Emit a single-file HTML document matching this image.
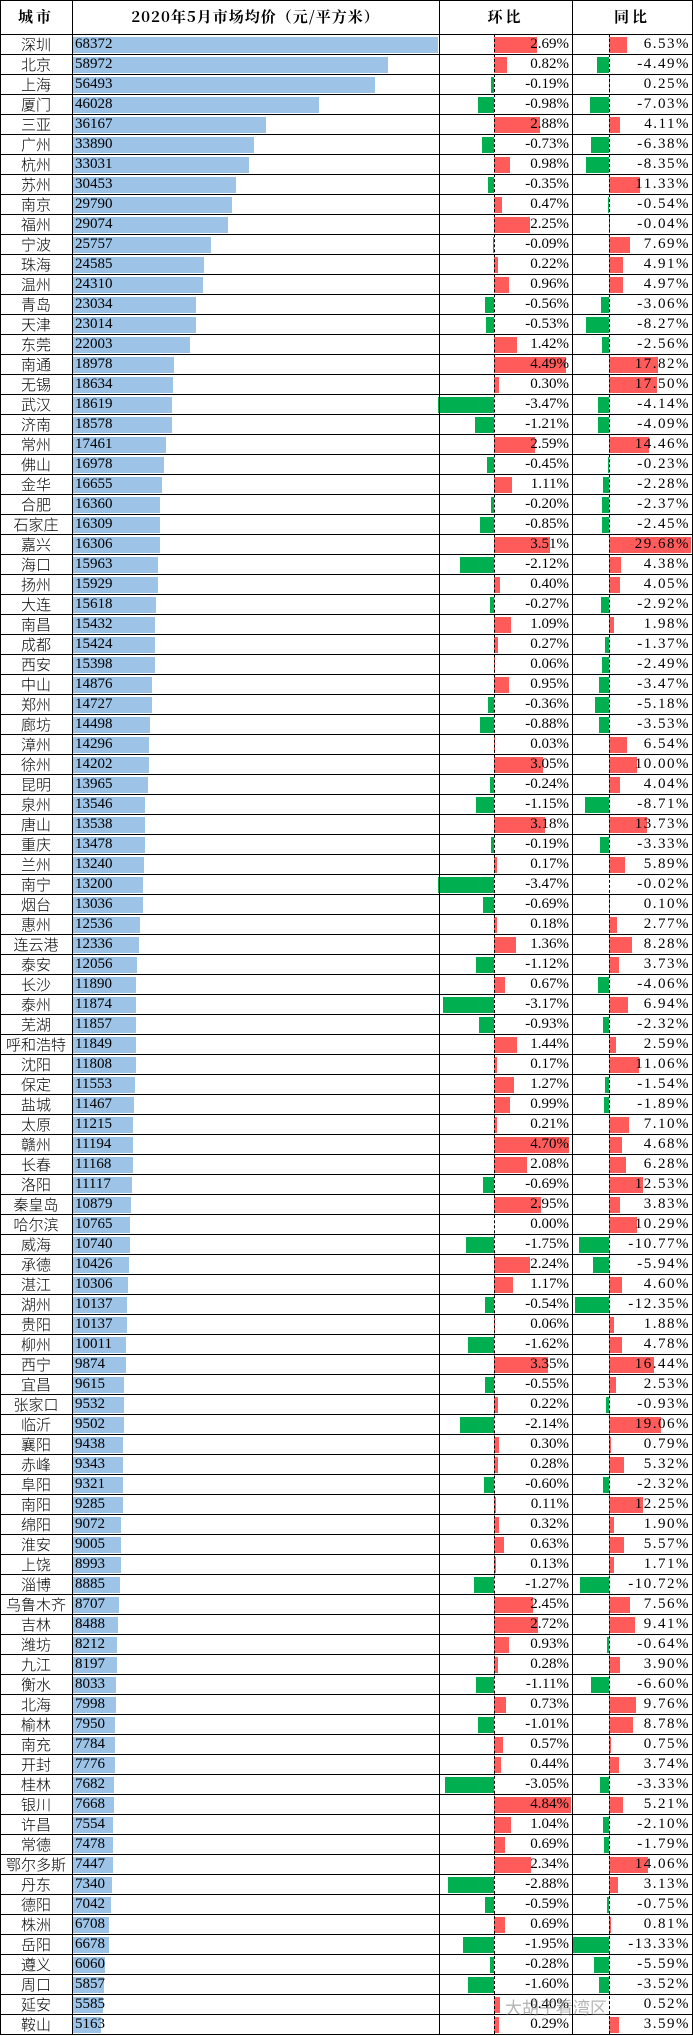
<!DOCTYPE html>
<html><head><meta charset="utf-8"><style>
body{margin:0;width:693px;height:2036px;background:#fff;position:relative;overflow:hidden;font-family:"Liberation Serif","Noto Serif CJK SC",serif;color:#000}
.vl{position:absolute;top:0;height:2035px;width:1px;background:#000}
.dl{position:absolute;top:34px;height:2000px;width:0;border-left:1px dashed #000}
.hd{position:absolute;top:0;height:34px;line-height:34px;text-align:center;font-weight:bold;font-size:15px;font-family:"Noto Serif CJK SC","Liberation Serif",serif;letter-spacing:3px}
#rows{position:absolute;top:34px;left:0;width:693px;border-top:1px solid #000}
.r{position:relative;height:20px;box-sizing:border-box;border-bottom:1px solid #000}
.r i{position:absolute;top:0;line-height:19px;font-style:normal;font-size:15px;white-space:nowrap}
.r b{position:absolute;top:2px;height:16px}
.c{left:0;width:72px;text-align:center;font-family:"Noto Sans CJK SC","Liberation Sans",sans-serif;font-weight:300!important;font-size:15px}
.p{left:73px;background:#9DC3E6;width:calc(var(--p)*0.00534px)}
.v{left:75px}
.hp{left:494px;width:calc(var(--a)*16px);background:#FF5B5B}
.hn{right:199px;width:calc(var(--a)*16px);background:#00B050}
.hv{right:124px}
.tp{left:609px;width:calc(var(--b)*2.75px);background:#FF5B5B}
.tn{right:84px;width:calc(var(--b)*2.75px);background:#00B050}
.tv{right:3px;letter-spacing:1.5px}
.wm{position:absolute;left:505px;top:1994px;font-size:17px;color:rgba(120,120,120,.55);font-family:"Noto Sans CJK SC",sans-serif}
</style></head><body>
<div class="hd" style="left:0;width:72px">城市</div>
<div class="hd" style="left:72px;width:367px;letter-spacing:1px">2020年5月市场均价（元/平方米）</div>
<div class="hd" style="left:439px;width:133px">环比</div>
<div class="hd" style="left:572px;width:120px">同比</div>
<div id="rows">
<div class="r" style="--p:68372;--a:2.69;--b:6.53"><b class="p"></b><i class="c">深圳</i><i class="v">68372</i><b class="hp"></b><i class="hv">2.69%</i><b class="tp"></b><i class="tv">6.53%</i></div>
<div class="r" style="--p:58972;--a:0.82;--b:4.49"><b class="p"></b><i class="c">北京</i><i class="v">58972</i><b class="hp"></b><i class="hv">0.82%</i><b class="tn"></b><i class="tv">-4.49%</i></div>
<div class="r" style="--p:56493;--a:0.19;--b:0.25"><b class="p"></b><i class="c">上海</i><i class="v">56493</i><b class="hn"></b><i class="hv">-0.19%</i><b class="tp"></b><i class="tv">0.25%</i></div>
<div class="r" style="--p:46028;--a:0.98;--b:7.03"><b class="p"></b><i class="c">厦门</i><i class="v">46028</i><b class="hn"></b><i class="hv">-0.98%</i><b class="tn"></b><i class="tv">-7.03%</i></div>
<div class="r" style="--p:36167;--a:2.88;--b:4.11"><b class="p"></b><i class="c">三亚</i><i class="v">36167</i><b class="hp"></b><i class="hv">2.88%</i><b class="tp"></b><i class="tv">4.11%</i></div>
<div class="r" style="--p:33890;--a:0.73;--b:6.38"><b class="p"></b><i class="c">广州</i><i class="v">33890</i><b class="hn"></b><i class="hv">-0.73%</i><b class="tn"></b><i class="tv">-6.38%</i></div>
<div class="r" style="--p:33031;--a:0.98;--b:8.35"><b class="p"></b><i class="c">杭州</i><i class="v">33031</i><b class="hp"></b><i class="hv">0.98%</i><b class="tn"></b><i class="tv">-8.35%</i></div>
<div class="r" style="--p:30453;--a:0.35;--b:11.33"><b class="p"></b><i class="c">苏州</i><i class="v">30453</i><b class="hn"></b><i class="hv">-0.35%</i><b class="tp"></b><i class="tv">11.33%</i></div>
<div class="r" style="--p:29790;--a:0.47;--b:0.54"><b class="p"></b><i class="c">南京</i><i class="v">29790</i><b class="hp"></b><i class="hv">0.47%</i><b class="tn"></b><i class="tv">-0.54%</i></div>
<div class="r" style="--p:29074;--a:2.25;--b:0.04"><b class="p"></b><i class="c">福州</i><i class="v">29074</i><b class="hp"></b><i class="hv">2.25%</i><b class="tn"></b><i class="tv">-0.04%</i></div>
<div class="r" style="--p:25757;--a:0.09;--b:7.69"><b class="p"></b><i class="c">宁波</i><i class="v">25757</i><b class="hn"></b><i class="hv">-0.09%</i><b class="tp"></b><i class="tv">7.69%</i></div>
<div class="r" style="--p:24585;--a:0.22;--b:4.91"><b class="p"></b><i class="c">珠海</i><i class="v">24585</i><b class="hp"></b><i class="hv">0.22%</i><b class="tp"></b><i class="tv">4.91%</i></div>
<div class="r" style="--p:24310;--a:0.96;--b:4.97"><b class="p"></b><i class="c">温州</i><i class="v">24310</i><b class="hp"></b><i class="hv">0.96%</i><b class="tp"></b><i class="tv">4.97%</i></div>
<div class="r" style="--p:23034;--a:0.56;--b:3.06"><b class="p"></b><i class="c">青岛</i><i class="v">23034</i><b class="hn"></b><i class="hv">-0.56%</i><b class="tn"></b><i class="tv">-3.06%</i></div>
<div class="r" style="--p:23014;--a:0.53;--b:8.27"><b class="p"></b><i class="c">天津</i><i class="v">23014</i><b class="hn"></b><i class="hv">-0.53%</i><b class="tn"></b><i class="tv">-8.27%</i></div>
<div class="r" style="--p:22003;--a:1.42;--b:2.56"><b class="p"></b><i class="c">东莞</i><i class="v">22003</i><b class="hp"></b><i class="hv">1.42%</i><b class="tn"></b><i class="tv">-2.56%</i></div>
<div class="r" style="--p:18978;--a:4.49;--b:17.82"><b class="p"></b><i class="c">南通</i><i class="v">18978</i><b class="hp"></b><i class="hv">4.49%</i><b class="tp"></b><i class="tv">17.82%</i></div>
<div class="r" style="--p:18634;--a:0.30;--b:17.50"><b class="p"></b><i class="c">无锡</i><i class="v">18634</i><b class="hp"></b><i class="hv">0.30%</i><b class="tp"></b><i class="tv">17.50%</i></div>
<div class="r" style="--p:18619;--a:3.47;--b:4.14"><b class="p"></b><i class="c">武汉</i><i class="v">18619</i><b class="hn"></b><i class="hv">-3.47%</i><b class="tn"></b><i class="tv">-4.14%</i></div>
<div class="r" style="--p:18578;--a:1.21;--b:4.09"><b class="p"></b><i class="c">济南</i><i class="v">18578</i><b class="hn"></b><i class="hv">-1.21%</i><b class="tn"></b><i class="tv">-4.09%</i></div>
<div class="r" style="--p:17461;--a:2.59;--b:14.46"><b class="p"></b><i class="c">常州</i><i class="v">17461</i><b class="hp"></b><i class="hv">2.59%</i><b class="tp"></b><i class="tv">14.46%</i></div>
<div class="r" style="--p:16978;--a:0.45;--b:0.23"><b class="p"></b><i class="c">佛山</i><i class="v">16978</i><b class="hn"></b><i class="hv">-0.45%</i><b class="tn"></b><i class="tv">-0.23%</i></div>
<div class="r" style="--p:16655;--a:1.11;--b:2.28"><b class="p"></b><i class="c">金华</i><i class="v">16655</i><b class="hp"></b><i class="hv">1.11%</i><b class="tn"></b><i class="tv">-2.28%</i></div>
<div class="r" style="--p:16360;--a:0.20;--b:2.37"><b class="p"></b><i class="c">合肥</i><i class="v">16360</i><b class="hn"></b><i class="hv">-0.20%</i><b class="tn"></b><i class="tv">-2.37%</i></div>
<div class="r" style="--p:16309;--a:0.85;--b:2.45"><b class="p"></b><i class="c">石家庄</i><i class="v">16309</i><b class="hn"></b><i class="hv">-0.85%</i><b class="tn"></b><i class="tv">-2.45%</i></div>
<div class="r" style="--p:16306;--a:3.51;--b:29.68"><b class="p"></b><i class="c">嘉兴</i><i class="v">16306</i><b class="hp"></b><i class="hv">3.51%</i><b class="tp"></b><i class="tv">29.68%</i></div>
<div class="r" style="--p:15963;--a:2.12;--b:4.38"><b class="p"></b><i class="c">海口</i><i class="v">15963</i><b class="hn"></b><i class="hv">-2.12%</i><b class="tp"></b><i class="tv">4.38%</i></div>
<div class="r" style="--p:15929;--a:0.40;--b:4.05"><b class="p"></b><i class="c">扬州</i><i class="v">15929</i><b class="hp"></b><i class="hv">0.40%</i><b class="tp"></b><i class="tv">4.05%</i></div>
<div class="r" style="--p:15618;--a:0.27;--b:2.92"><b class="p"></b><i class="c">大连</i><i class="v">15618</i><b class="hn"></b><i class="hv">-0.27%</i><b class="tn"></b><i class="tv">-2.92%</i></div>
<div class="r" style="--p:15432;--a:1.09;--b:1.98"><b class="p"></b><i class="c">南昌</i><i class="v">15432</i><b class="hp"></b><i class="hv">1.09%</i><b class="tp"></b><i class="tv">1.98%</i></div>
<div class="r" style="--p:15424;--a:0.27;--b:1.37"><b class="p"></b><i class="c">成都</i><i class="v">15424</i><b class="hp"></b><i class="hv">0.27%</i><b class="tn"></b><i class="tv">-1.37%</i></div>
<div class="r" style="--p:15398;--a:0.06;--b:2.49"><b class="p"></b><i class="c">西安</i><i class="v">15398</i><b class="hp"></b><i class="hv">0.06%</i><b class="tn"></b><i class="tv">-2.49%</i></div>
<div class="r" style="--p:14876;--a:0.95;--b:3.47"><b class="p"></b><i class="c">中山</i><i class="v">14876</i><b class="hp"></b><i class="hv">0.95%</i><b class="tn"></b><i class="tv">-3.47%</i></div>
<div class="r" style="--p:14727;--a:0.36;--b:5.18"><b class="p"></b><i class="c">郑州</i><i class="v">14727</i><b class="hn"></b><i class="hv">-0.36%</i><b class="tn"></b><i class="tv">-5.18%</i></div>
<div class="r" style="--p:14498;--a:0.88;--b:3.53"><b class="p"></b><i class="c">廊坊</i><i class="v">14498</i><b class="hn"></b><i class="hv">-0.88%</i><b class="tn"></b><i class="tv">-3.53%</i></div>
<div class="r" style="--p:14296;--a:0.03;--b:6.54"><b class="p"></b><i class="c">漳州</i><i class="v">14296</i><b class="hp"></b><i class="hv">0.03%</i><b class="tp"></b><i class="tv">6.54%</i></div>
<div class="r" style="--p:14202;--a:3.05;--b:10.00"><b class="p"></b><i class="c">徐州</i><i class="v">14202</i><b class="hp"></b><i class="hv">3.05%</i><b class="tp"></b><i class="tv">10.00%</i></div>
<div class="r" style="--p:13965;--a:0.24;--b:4.04"><b class="p"></b><i class="c">昆明</i><i class="v">13965</i><b class="hn"></b><i class="hv">-0.24%</i><b class="tp"></b><i class="tv">4.04%</i></div>
<div class="r" style="--p:13546;--a:1.15;--b:8.71"><b class="p"></b><i class="c">泉州</i><i class="v">13546</i><b class="hn"></b><i class="hv">-1.15%</i><b class="tn"></b><i class="tv">-8.71%</i></div>
<div class="r" style="--p:13538;--a:3.18;--b:13.73"><b class="p"></b><i class="c">唐山</i><i class="v">13538</i><b class="hp"></b><i class="hv">3.18%</i><b class="tp"></b><i class="tv">13.73%</i></div>
<div class="r" style="--p:13478;--a:0.19;--b:3.33"><b class="p"></b><i class="c">重庆</i><i class="v">13478</i><b class="hn"></b><i class="hv">-0.19%</i><b class="tn"></b><i class="tv">-3.33%</i></div>
<div class="r" style="--p:13240;--a:0.17;--b:5.89"><b class="p"></b><i class="c">兰州</i><i class="v">13240</i><b class="hp"></b><i class="hv">0.17%</i><b class="tp"></b><i class="tv">5.89%</i></div>
<div class="r" style="--p:13200;--a:3.47;--b:0.02"><b class="p"></b><i class="c">南宁</i><i class="v">13200</i><b class="hn"></b><i class="hv">-3.47%</i><b class="tn"></b><i class="tv">-0.02%</i></div>
<div class="r" style="--p:13036;--a:0.69;--b:0.10"><b class="p"></b><i class="c">烟台</i><i class="v">13036</i><b class="hn"></b><i class="hv">-0.69%</i><b class="tp"></b><i class="tv">0.10%</i></div>
<div class="r" style="--p:12536;--a:0.18;--b:2.77"><b class="p"></b><i class="c">惠州</i><i class="v">12536</i><b class="hp"></b><i class="hv">0.18%</i><b class="tp"></b><i class="tv">2.77%</i></div>
<div class="r" style="--p:12336;--a:1.36;--b:8.28"><b class="p"></b><i class="c">连云港</i><i class="v">12336</i><b class="hp"></b><i class="hv">1.36%</i><b class="tp"></b><i class="tv">8.28%</i></div>
<div class="r" style="--p:12056;--a:1.12;--b:3.73"><b class="p"></b><i class="c">泰安</i><i class="v">12056</i><b class="hn"></b><i class="hv">-1.12%</i><b class="tp"></b><i class="tv">3.73%</i></div>
<div class="r" style="--p:11890;--a:0.67;--b:4.06"><b class="p"></b><i class="c">长沙</i><i class="v">11890</i><b class="hp"></b><i class="hv">0.67%</i><b class="tn"></b><i class="tv">-4.06%</i></div>
<div class="r" style="--p:11874;--a:3.17;--b:6.94"><b class="p"></b><i class="c">泰州</i><i class="v">11874</i><b class="hn"></b><i class="hv">-3.17%</i><b class="tp"></b><i class="tv">6.94%</i></div>
<div class="r" style="--p:11857;--a:0.93;--b:2.32"><b class="p"></b><i class="c">芜湖</i><i class="v">11857</i><b class="hn"></b><i class="hv">-0.93%</i><b class="tn"></b><i class="tv">-2.32%</i></div>
<div class="r" style="--p:11849;--a:1.44;--b:2.59"><b class="p"></b><i class="c">呼和浩特</i><i class="v">11849</i><b class="hp"></b><i class="hv">1.44%</i><b class="tp"></b><i class="tv">2.59%</i></div>
<div class="r" style="--p:11808;--a:0.17;--b:11.06"><b class="p"></b><i class="c">沈阳</i><i class="v">11808</i><b class="hp"></b><i class="hv">0.17%</i><b class="tp"></b><i class="tv">11.06%</i></div>
<div class="r" style="--p:11553;--a:1.27;--b:1.54"><b class="p"></b><i class="c">保定</i><i class="v">11553</i><b class="hp"></b><i class="hv">1.27%</i><b class="tn"></b><i class="tv">-1.54%</i></div>
<div class="r" style="--p:11467;--a:0.99;--b:1.89"><b class="p"></b><i class="c">盐城</i><i class="v">11467</i><b class="hp"></b><i class="hv">0.99%</i><b class="tn"></b><i class="tv">-1.89%</i></div>
<div class="r" style="--p:11215;--a:0.21;--b:7.10"><b class="p"></b><i class="c">太原</i><i class="v">11215</i><b class="hp"></b><i class="hv">0.21%</i><b class="tp"></b><i class="tv">7.10%</i></div>
<div class="r" style="--p:11194;--a:4.70;--b:4.68"><b class="p"></b><i class="c">赣州</i><i class="v">11194</i><b class="hp"></b><i class="hv">4.70%</i><b class="tp"></b><i class="tv">4.68%</i></div>
<div class="r" style="--p:11168;--a:2.08;--b:6.28"><b class="p"></b><i class="c">长春</i><i class="v">11168</i><b class="hp"></b><i class="hv">2.08%</i><b class="tp"></b><i class="tv">6.28%</i></div>
<div class="r" style="--p:11117;--a:0.69;--b:12.53"><b class="p"></b><i class="c">洛阳</i><i class="v">11117</i><b class="hn"></b><i class="hv">-0.69%</i><b class="tp"></b><i class="tv">12.53%</i></div>
<div class="r" style="--p:10879;--a:2.95;--b:3.83"><b class="p"></b><i class="c">秦皇岛</i><i class="v">10879</i><b class="hp"></b><i class="hv">2.95%</i><b class="tp"></b><i class="tv">3.83%</i></div>
<div class="r" style="--p:10765;--a:0;--b:10.29"><b class="p"></b><i class="c">哈尔滨</i><i class="v">10765</i><b class="hp"></b><i class="hv">0.00%</i><b class="tp"></b><i class="tv">10.29%</i></div>
<div class="r" style="--p:10740;--a:1.75;--b:10.77"><b class="p"></b><i class="c">威海</i><i class="v">10740</i><b class="hn"></b><i class="hv">-1.75%</i><b class="tn"></b><i class="tv">-10.77%</i></div>
<div class="r" style="--p:10426;--a:2.24;--b:5.94"><b class="p"></b><i class="c">承德</i><i class="v">10426</i><b class="hp"></b><i class="hv">2.24%</i><b class="tn"></b><i class="tv">-5.94%</i></div>
<div class="r" style="--p:10306;--a:1.17;--b:4.60"><b class="p"></b><i class="c">湛江</i><i class="v">10306</i><b class="hp"></b><i class="hv">1.17%</i><b class="tp"></b><i class="tv">4.60%</i></div>
<div class="r" style="--p:10137;--a:0.54;--b:12.35"><b class="p"></b><i class="c">湖州</i><i class="v">10137</i><b class="hn"></b><i class="hv">-0.54%</i><b class="tn"></b><i class="tv">-12.35%</i></div>
<div class="r" style="--p:10137;--a:0.06;--b:1.88"><b class="p"></b><i class="c">贵阳</i><i class="v">10137</i><b class="hp"></b><i class="hv">0.06%</i><b class="tp"></b><i class="tv">1.88%</i></div>
<div class="r" style="--p:10011;--a:1.62;--b:4.78"><b class="p"></b><i class="c">柳州</i><i class="v">10011</i><b class="hn"></b><i class="hv">-1.62%</i><b class="tp"></b><i class="tv">4.78%</i></div>
<div class="r" style="--p:9874;--a:3.35;--b:16.44"><b class="p"></b><i class="c">西宁</i><i class="v">9874</i><b class="hp"></b><i class="hv">3.35%</i><b class="tp"></b><i class="tv">16.44%</i></div>
<div class="r" style="--p:9615;--a:0.55;--b:2.53"><b class="p"></b><i class="c">宜昌</i><i class="v">9615</i><b class="hn"></b><i class="hv">-0.55%</i><b class="tp"></b><i class="tv">2.53%</i></div>
<div class="r" style="--p:9532;--a:0.22;--b:0.93"><b class="p"></b><i class="c">张家口</i><i class="v">9532</i><b class="hp"></b><i class="hv">0.22%</i><b class="tn"></b><i class="tv">-0.93%</i></div>
<div class="r" style="--p:9502;--a:2.14;--b:19.06"><b class="p"></b><i class="c">临沂</i><i class="v">9502</i><b class="hn"></b><i class="hv">-2.14%</i><b class="tp"></b><i class="tv">19.06%</i></div>
<div class="r" style="--p:9438;--a:0.30;--b:0.79"><b class="p"></b><i class="c">襄阳</i><i class="v">9438</i><b class="hp"></b><i class="hv">0.30%</i><b class="tp"></b><i class="tv">0.79%</i></div>
<div class="r" style="--p:9343;--a:0.28;--b:5.32"><b class="p"></b><i class="c">赤峰</i><i class="v">9343</i><b class="hp"></b><i class="hv">0.28%</i><b class="tp"></b><i class="tv">5.32%</i></div>
<div class="r" style="--p:9321;--a:0.60;--b:2.32"><b class="p"></b><i class="c">阜阳</i><i class="v">9321</i><b class="hn"></b><i class="hv">-0.60%</i><b class="tn"></b><i class="tv">-2.32%</i></div>
<div class="r" style="--p:9285;--a:0.11;--b:12.25"><b class="p"></b><i class="c">南阳</i><i class="v">9285</i><b class="hp"></b><i class="hv">0.11%</i><b class="tp"></b><i class="tv">12.25%</i></div>
<div class="r" style="--p:9072;--a:0.32;--b:1.90"><b class="p"></b><i class="c">绵阳</i><i class="v">9072</i><b class="hp"></b><i class="hv">0.32%</i><b class="tp"></b><i class="tv">1.90%</i></div>
<div class="r" style="--p:9005;--a:0.63;--b:5.57"><b class="p"></b><i class="c">淮安</i><i class="v">9005</i><b class="hp"></b><i class="hv">0.63%</i><b class="tp"></b><i class="tv">5.57%</i></div>
<div class="r" style="--p:8993;--a:0.13;--b:1.71"><b class="p"></b><i class="c">上饶</i><i class="v">8993</i><b class="hp"></b><i class="hv">0.13%</i><b class="tp"></b><i class="tv">1.71%</i></div>
<div class="r" style="--p:8885;--a:1.27;--b:10.72"><b class="p"></b><i class="c">淄博</i><i class="v">8885</i><b class="hn"></b><i class="hv">-1.27%</i><b class="tn"></b><i class="tv">-10.72%</i></div>
<div class="r" style="--p:8707;--a:2.45;--b:7.56"><b class="p"></b><i class="c">乌鲁木齐</i><i class="v">8707</i><b class="hp"></b><i class="hv">2.45%</i><b class="tp"></b><i class="tv">7.56%</i></div>
<div class="r" style="--p:8488;--a:2.72;--b:9.41"><b class="p"></b><i class="c">吉林</i><i class="v">8488</i><b class="hp"></b><i class="hv">2.72%</i><b class="tp"></b><i class="tv">9.41%</i></div>
<div class="r" style="--p:8212;--a:0.93;--b:0.64"><b class="p"></b><i class="c">潍坊</i><i class="v">8212</i><b class="hp"></b><i class="hv">0.93%</i><b class="tn"></b><i class="tv">-0.64%</i></div>
<div class="r" style="--p:8197;--a:0.28;--b:3.90"><b class="p"></b><i class="c">九江</i><i class="v">8197</i><b class="hp"></b><i class="hv">0.28%</i><b class="tp"></b><i class="tv">3.90%</i></div>
<div class="r" style="--p:8033;--a:1.11;--b:6.60"><b class="p"></b><i class="c">衡水</i><i class="v">8033</i><b class="hn"></b><i class="hv">-1.11%</i><b class="tn"></b><i class="tv">-6.60%</i></div>
<div class="r" style="--p:7998;--a:0.73;--b:9.76"><b class="p"></b><i class="c">北海</i><i class="v">7998</i><b class="hp"></b><i class="hv">0.73%</i><b class="tp"></b><i class="tv">9.76%</i></div>
<div class="r" style="--p:7950;--a:1.01;--b:8.78"><b class="p"></b><i class="c">榆林</i><i class="v">7950</i><b class="hn"></b><i class="hv">-1.01%</i><b class="tp"></b><i class="tv">8.78%</i></div>
<div class="r" style="--p:7784;--a:0.57;--b:0.75"><b class="p"></b><i class="c">南充</i><i class="v">7784</i><b class="hp"></b><i class="hv">0.57%</i><b class="tp"></b><i class="tv">0.75%</i></div>
<div class="r" style="--p:7776;--a:0.44;--b:3.74"><b class="p"></b><i class="c">开封</i><i class="v">7776</i><b class="hp"></b><i class="hv">0.44%</i><b class="tp"></b><i class="tv">3.74%</i></div>
<div class="r" style="--p:7682;--a:3.05;--b:3.33"><b class="p"></b><i class="c">桂林</i><i class="v">7682</i><b class="hn"></b><i class="hv">-3.05%</i><b class="tn"></b><i class="tv">-3.33%</i></div>
<div class="r" style="--p:7668;--a:4.84;--b:5.21"><b class="p"></b><i class="c">银川</i><i class="v">7668</i><b class="hp"></b><i class="hv">4.84%</i><b class="tp"></b><i class="tv">5.21%</i></div>
<div class="r" style="--p:7554;--a:1.04;--b:2.10"><b class="p"></b><i class="c">许昌</i><i class="v">7554</i><b class="hp"></b><i class="hv">1.04%</i><b class="tn"></b><i class="tv">-2.10%</i></div>
<div class="r" style="--p:7478;--a:0.69;--b:1.79"><b class="p"></b><i class="c">常德</i><i class="v">7478</i><b class="hp"></b><i class="hv">0.69%</i><b class="tn"></b><i class="tv">-1.79%</i></div>
<div class="r" style="--p:7447;--a:2.34;--b:14.06"><b class="p"></b><i class="c">鄂尔多斯</i><i class="v">7447</i><b class="hp"></b><i class="hv">2.34%</i><b class="tp"></b><i class="tv">14.06%</i></div>
<div class="r" style="--p:7340;--a:2.88;--b:3.13"><b class="p"></b><i class="c">丹东</i><i class="v">7340</i><b class="hn"></b><i class="hv">-2.88%</i><b class="tp"></b><i class="tv">3.13%</i></div>
<div class="r" style="--p:7042;--a:0.59;--b:0.75"><b class="p"></b><i class="c">德阳</i><i class="v">7042</i><b class="hn"></b><i class="hv">-0.59%</i><b class="tn"></b><i class="tv">-0.75%</i></div>
<div class="r" style="--p:6708;--a:0.69;--b:0.81"><b class="p"></b><i class="c">株洲</i><i class="v">6708</i><b class="hp"></b><i class="hv">0.69%</i><b class="tp"></b><i class="tv">0.81%</i></div>
<div class="r" style="--p:6678;--a:1.95;--b:13.33"><b class="p"></b><i class="c">岳阳</i><i class="v">6678</i><b class="hn"></b><i class="hv">-1.95%</i><b class="tn"></b><i class="tv">-13.33%</i></div>
<div class="r" style="--p:6060;--a:0.28;--b:5.59"><b class="p"></b><i class="c">遵义</i><i class="v">6060</i><b class="hn"></b><i class="hv">-0.28%</i><b class="tn"></b><i class="tv">-5.59%</i></div>
<div class="r" style="--p:5857;--a:1.60;--b:3.52"><b class="p"></b><i class="c">周口</i><i class="v">5857</i><b class="hn"></b><i class="hv">-1.60%</i><b class="tn"></b><i class="tv">-3.52%</i></div>
<div class="r" style="--p:5585;--a:0.40;--b:0"><b class="p"></b><i class="c">延安</i><i class="v">5585</i><b class="hp"></b><i class="hv">0.40%</i><b class="tp"></b><i class="tv">0.52%</i></div>
<div class="r" style="--p:5163;--a:0.29;--b:3.59"><b class="p"></b><i class="c">鞍山</i><i class="v">5163</i><b class="hp"></b><i class="hv">0.29%</i><b class="tp"></b><i class="tv">3.59%</i></div>
</div>
<div class="vl" style="left:0"></div>
<div class="vl" style="left:72px"></div>
<div class="vl" style="left:439px"></div>
<div class="vl" style="left:572px"></div>
<div class="vl" style="left:692px"></div>
<div style="position:absolute;left:0;top:0;width:693px;height:1px;background:#000"></div>
<div class="dl" style="left:494px"></div>
<div class="dl" style="left:609px"></div>
<div class="wm">大胡子看湾区</div>
</body></html>
